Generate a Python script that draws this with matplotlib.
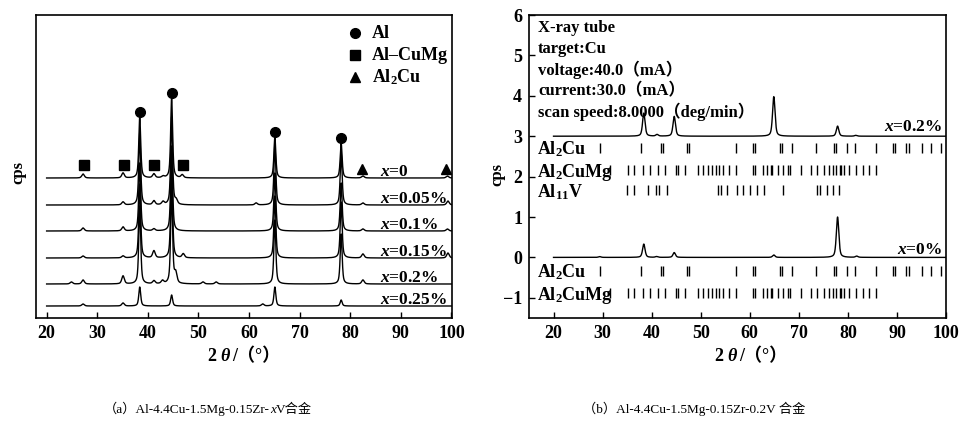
import numpy as np
import matplotlib
matplotlib.use('Agg')
import matplotlib.pyplot as plt

plt.rcParams['font.family'] = ['Liberation Serif', 'Noto Sans CJK SC']
plt.rcParams['mathtext.fontset'] = 'custom'
plt.rcParams['mathtext.rm'] = 'Liberation Serif:bold'
plt.rcParams['mathtext.it'] = 'Liberation Serif:italic:bold'
plt.rcParams['mathtext.bf'] = 'Liberation Serif:bold'
plt.rcParams['axes.unicode_minus'] = True

# ---------------- data: panel (a) ----------------
A_LABELS = ['0', '0.05%', '0.1%', '0.15%', '0.2%', '0.25%']
A_AL_POS = [38.4, 44.7, 65.1, 78.2]
A_AL_H = [[61, 80, 41, 35],
          [72, 88, 60, 52],
          [68, 85, 58, 48],
          [74, 90, 62, 56],
          [78, 95, 64, 50],
          [19, 11, 19, 6]]
A_MINOR_POS = [[27.2, 35.1, 41.2, 43.0, 46.8, 82.5, 99.2],
               [35.1, 41.2, 43.0, 45.6, 61.4, 82.5, 99.3],
               [27.2, 35.1, 41.2, 82.5, 99.2],
               [27.2, 35.1, 41.2, 47.0, 82.5, 99.3],
               [24.9, 27.2, 35.1, 41.2, 42.9, 45.5, 50.9, 53.5, 82.5],
               [27.2, 35.1, 62.7]]
A_MINOR_H = [[4, 5, 4, 1.5, 3, 2, 2],
             [3, 4, 3, 4, 2, 2, 4],
             [3, 4, 2, 2, 2],
             [2, 2, 7, 4, 4, 5],
             [2, 4, 8, 3, 3, 10, 2, 2, 4],
             [2, 3, 2]]
A_CUMG_MARK = [27.3, 35.2, 41.2, 47.0]
A_AL2CU_MARK = [82.4, 98.9]
A_LEGEND = ['Al', 'Al–CuMg', 'Al$_2$Cu']

# ---------------- data: panel (b) ----------------
B_LABELS = ['0.2%', '0%']
B_PEAK_POS = [[38.4, 41.1, 44.6, 64.9, 77.9, 81.6],
              [29.4, 38.4, 41.0, 44.6, 64.9, 77.9, 81.8]]
B_PEAK_H = [[0.57, 0.04, 0.49, 0.98, 0.25, 0.02],
            [0.02, 0.33, 0.02, 0.12, 0.06, 1.00, 0.03]]
AL2CU_STICKS = [29.5, 37.9, 42.0, 42.3, 47.2, 47.7, 57.2, 60.7, 61.1, 66.2, 66.6,
                68.7, 73.4, 77.1, 77.6, 79.8, 81.5, 85.8, 89.1, 89.6, 91.8, 92.4,
                95.2, 96.9, 99.0]
AL2CUMG_STICKS = [31.5, 35.1, 36.4, 38.2, 39.7, 41.2, 42.8, 45.0, 45.4, 46.7, 49.4,
                  50.4, 51.4, 52.4, 53.1, 53.8, 54.5, 55.7, 57.1, 60.7, 61.1, 62.6,
                  63.6, 64.3, 64.6, 65.7, 66.7, 67.7, 68.1, 70.4, 72.5, 73.8, 75.2,
                  76.2, 76.9, 77.6, 78.3, 78.6, 79.3, 80.3, 81.7, 83.0, 84.4, 85.7]
AL11V_STICKS = [35.0, 36.4, 39.2, 40.9, 41.5, 43.1, 53.5, 54.1, 55.4, 57.3, 58.6,
                60.0, 61.4, 62.8, 66.8, 73.8, 74.3, 75.8, 76.9, 78.1]
B_INFO = ['X-ray tube', 'target:Cu', 'voltage:40.0（mA）', 'current:30.0（mA）',
          'scan speed:8.0000（deg/min）']
CAPTION_A = [('（a）Al-4.4Cu-1.5Mg-0.15Zr-', {}), ('x', {'style': 'italic'}), ('V合金', {})]
CAPTION_B = [('（b）Al-4.4Cu-1.5Mg-0.15Zr-0.2V 合金', {})]


def profile(x, centers, heights, fwhm, eta=0.5):
    y = np.zeros_like(x)
    for c, h in zip(centers, heights):
        d = (x - c) / fwhm
        y += h * (eta / (1 + 4 * d * d) + (1 - eta) * np.exp(-4 * np.log(2) * d * d))
    return y


fig = plt.figure(figsize=(9.62, 4.25), dpi=100)
W, H = 962.0, 425.0
axA = fig.add_axes([36 / W, 1 - 318 / H, 416 / W, 303 / H])
axB = fig.add_axes([529 / W, 1 - 318 / H, 417 / W, 303 / H])

tt = np.arange(20, 100.0001, 0.02)
LW = 1.0
TFS = 13

# ---------------- panel (a) ----------------
offsets = [140, 113, 87, 60, 34, 12]
for i, lab in enumerate(A_LABELS):
    y = offsets[i] + profile(tt, A_AL_POS, A_AL_H[i], 0.45, 0.6) \
        + profile(tt, A_MINOR_POS[i], A_MINOR_H[i], 0.6, 0.5)
    axA.plot(tt, y, color='black', lw=LW)
    axA.text(85.8, offsets[i] + 2, '$x$=' + lab, ha='left', va='baseline',
             fontsize=12.5, fontweight='bold', family='Liberation Serif')

top0 = offsets[0]
axA.plot(A_AL_POS, [top0 + h + 5 for h in A_AL_H[0]], 'o', color='black', ms=7)
axA.plot(A_CUMG_MARK, [top0 + 13] * len(A_CUMG_MARK), 's', color='black', ms=6.5)
axA.plot(A_AL2CU_MARK, [top0 + 9] * len(A_AL2CU_MARK), '^', color='black', ms=7)

for j, (lab, mk, ms) in enumerate(zip(A_LEGEND, ['o', 's', '^'], [7, 6.5, 7])):
    ly = 1 - (33 + 22 * j - 15) / 303.0
    axA.plot([0.768], [ly], mk, color='black', ms=ms, transform=axA.transAxes, clip_on=False)
    axA.text(0.808, ly, lab, transform=axA.transAxes, va='center', ha='left',
             fontsize=13, fontweight='bold', family='Liberation Serif')

axA.set_xlim(17.9, 100.1)
axA.set_ylim(0, 303)
axA.set_yticks([])
axA.set_xticks(np.arange(20, 101, 10))

# ---------------- panel (b) ----------------
b_offsets = [3, 0]
for i, lab in enumerate(B_LABELS):
    y = b_offsets[i] + profile(tt, B_PEAK_POS[i], B_PEAK_H[i], 0.6, 0.5)
    axB.plot(tt, y, color='black', lw=LW)
    axB.text(99.2, b_offsets[i] + (0.13 if i == 0 else 0.08), '$x$=' + lab,
             ha='right', va='baseline', fontsize=12.5, fontweight='bold',
             family='Liberation Serif')

rows = [(2.55, AL2CU_STICKS, 'Al$_2$Cu'),
        (2.00, AL2CUMG_STICKS, 'Al$_2$CuMg'),
        (1.50, AL11V_STICKS, 'Al$_{11}$V'),
        (-0.50, AL2CU_STICKS, 'Al$_2$Cu'),
        (-1.05, AL2CUMG_STICKS, 'Al$_2$CuMg')]
for base, sticks, lab in rows:
    axB.vlines(sticks, base + 0.04, base + 0.29, color='black', lw=1.0)
    axB.text(16.6, base, lab, ha='left', va='baseline', fontsize=13,
             fontweight='bold', family='Liberation Serif')

for k, line in enumerate(B_INFO):
    yy = 1 - (28 + 21 * k - 15) / 303.0
    axB.text(0.022, yy, line, transform=axB.transAxes, ha='left', va='center',
             fontsize=12, fontweight='bold')

axB.set_xlim(15, 100)
axB.set_ylim(-1.5, 6)
axB.set_xticks(np.arange(20, 101, 10))
axB.set_yticks(np.arange(-1, 7, 1))

for ax in (axA, axB):
    for s in ax.spines.values():
        s.set_linewidth(1.2)
    ax.tick_params(direction='in', length=4, width=1.0, labelsize=TFS, pad=5)
    for t in ax.get_xticklabels() + ax.get_yticklabels():
        t.set_fontweight('bold')
        t.set_family('Liberation Serif')

fig.text(18 / W, 1 - 172 / H, 'cps', rotation=90, ha='center', va='center',
         fontsize=12, fontweight='bold')
fig.text(497 / W, 1 - 175 / H, 'cps', rotation=90, ha='center', va='center',
         fontsize=12, fontweight='bold')


def chain_text(xc, yb, pieces, gaps=None, **common):
    texts = []
    for s, kw in pieces:
        props = dict(common)
        props.update(kw)
        texts.append(fig.text(0, yb, s, ha='left', va='baseline', **props))
    r = fig.canvas.get_renderer()
    widths = [t.get_window_extent(r).width for t in texts]
    gaps = gaps or [0] * len(texts)
    total = sum(widths) + sum(gaps)
    cur = xc * W - total / 2
    for t, w, g in zip(texts, widths, gaps):
        t.set_x(cur / W)
        cur += w + g


xl_pieces = [('2', {}), ('θ', {'style': 'italic'}), ('/（°）', {})]
chain_text(244 / W, 1 - 361 / H, xl_pieces, gaps=[4, 2, 0], fontsize=13, fontweight='bold')
chain_text(751 / W, 1 - 361 / H, xl_pieces, gaps=[4, 2, 0], fontsize=13, fontweight='bold')

chain_text(208 / W, 1 - 413 / H, CAPTION_A, fontsize=9.5)
chain_text(694 / W, 1 - 413 / H, CAPTION_B, fontsize=9.5)

fig.savefig('out.png', dpi=100)
